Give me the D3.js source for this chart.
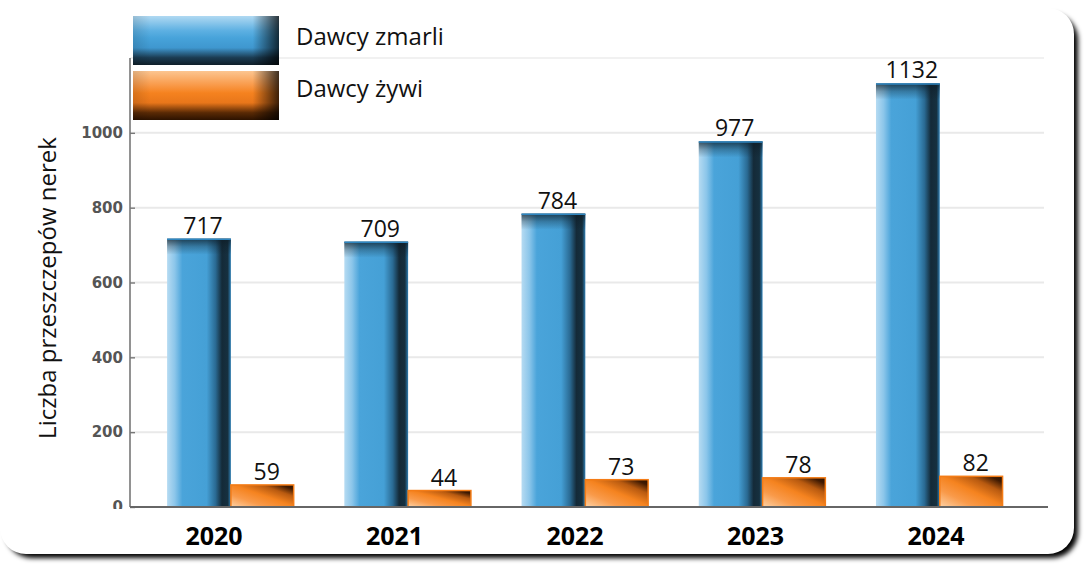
<!DOCTYPE html>
<html>
<head>
<meta charset="utf-8">
<script src="https://cdn.jsdelivr.net/npm/d3@7"></script>
<style>
    html, body { margin: 0; padding: 0; background: #fff; }
    svg { display: block; }
</style>
</head>
<body>
<div id="chart"></div>
<script>
// Data
const years = ['2020', '2021', '2022', '2023', '2024'];
const deceasedDonors = [717, 709, 784, 977, 1132];
const livingDonors = [59, 44, 73, 78, 82];
const seriesKeys = ['zmarli', 'zywi'];
const seriesNames = ['Dawcy zmarli', 'Dawcy żywi'];
const yTicks = [0, 200, 400, 600, 800, 1000];

const config = {
    width: 1084,
    height: 568,
    axisLeft: 130,
    axisRight: 1048,
    axisTop: 58,
    axisBottom: 507,
    font: "'Open Sans', 'Liberation Sans', sans-serif"
};

const rows = years.map((year, i) => ({
    year: year,
    zmarli: deceasedDonors[i],
    zywi: livingDonors[i]
}));

const svg = d3.select('#chart')
    .append('svg')
    .attr('width', config.width)
    .attr('height', config.height);

const defs = svg.append('defs');

// gradients for the glossy bars
function addGradient(id, stops, x1, y1, x2, y2) {
    const g = defs.append('linearGradient')
        .attr('id', id)
        .attr('x1', x1).attr('y1', y1)
        .attr('x2', x2).attr('y2', y2);
    stops.forEach(s => g.append('stop')
        .attr('offset', s[0])
        .attr('stop-color', s[1])
        .attr('stop-opacity', s[2] === undefined ? 1 : s[2]));
}

addGradient('blueBar', [
    [0, '#b6dbf2'], [0.12, '#8cc6ea'], [0.24, '#4aa4da'], [0.62, '#45a0d6'],
    [0.76, '#2a6a93'], [0.86, '#142a38'], [0.95, '#16303f'], [1, '#2f7fb4']
], 0, 0, 1, 0);
addGradient('blueTop', [
    [0, '#0d1c26', 0.75], [0.5, '#0d1c26', 0.3], [1, '#0d1c26', 0]
], 0, 0, 0, 1);
addGradient('orangeBar', [
    [0, '#fdd2a6'], [0.28, '#f99a4a'], [0.52, '#f5831f'], [0.74, '#b85a10'],
    [0.9, '#3f1a02'], [1, '#2c1200']
], 0, 1, 1, 0);
addGradient('blueLegend', [
    [0, '#b0d9f2'], [0.3, '#5db0e2'], [0.45, '#47a3da'], [0.65, '#3f97cf'],
    [0.85, '#1b3c52'], [1, '#0f1f2a']
], 0, 0, 0, 1);
addGradient('orangeLegend', [
    [0, '#fcc590'], [0.3, '#f99846'], [0.45, '#f5821f'], [0.65, '#e8761a'],
    [0.85, '#5a2a05'], [1, '#2c1200']
], 0, 0, 0, 1);
addGradient('legendShade', [
    [0, '#000', 0.12], [0.12, '#000', 0], [0.82, '#000', 0], [1, '#000', 0.75]
], 0, 0, 1, 0);

const shadow = defs.append('filter')
    .attr('id', 'frameShadow')
    .attr('x', '-5%').attr('y', '-5%')
    .attr('width', '110%').attr('height', '110%');
shadow.append('feGaussianBlur').attr('in', 'SourceAlpha').attr('stdDeviation', 2.5);

// the "0" tick label is cut by the axis line in the reference
defs.append('clipPath')
    .attr('id', 'yClip')
    .append('rect')
    .attr('x', -config.axisLeft).attr('y', 0)
    .attr('width', config.axisLeft + 10)
    .attr('height', config.axisBottom + 2);

// card frame with shadow on right and bottom
svg.append('rect')
    .attr('x', 6).attr('y', 14)
    .attr('width', 1072).attr('height', 544)
    .attr('rx', 26)
    .attr('fill', '#6a6a6a')
    .attr('filter', 'url(#frameShadow)');
svg.append('rect')
    .attr('x', 0).attr('y', 8)
    .attr('width', 1074).attr('height', 546)
    .attr('rx', 26)
    .attr('fill', '#fff');

// scales
const xScale = d3.scaleBand()
    .domain(years)
    .range([config.axisLeft, config.axisRight])
    .paddingInner(0.28)
    .paddingOuter(0.23)
    .align(0.455);

const xSub = d3.scaleBand()
    .domain(seriesKeys)
    .range([0, xScale.bandwidth()]);

const yScale = d3.scaleLinear()
    .domain([0, 1200])
    .range([config.axisBottom, config.axisTop]);

const labelScale = d3.scalePoint()
    .domain(years)
    .range([214, 936]);

// grid lines
svg.append('g')
    .selectAll('line')
    .data(yTicks.slice(1).concat([1200]))
    .join('line')
    .attr('x1', config.axisLeft)
    .attr('x2', config.axisRight - 4)
    .attr('y1', d => yScale(d))
    .attr('y2', d => yScale(d))
    .attr('stroke', d => d === 1200 ? '#f1f1f1' : '#e9e9e9')
    .attr('stroke-width', 2);

// y axis
const yAxisGroup = svg.append('g')
    .attr('transform', `translate(${config.axisLeft},0)`)
    .attr('clip-path', 'url(#yClip)')
    .call(d3.axisLeft(yScale)
        .tickValues(yTicks)
        .tickFormat(d3.format('d'))
        .tickSize(-5)
        .tickPadding(7));

yAxisGroup.select('.domain')
    .attr('d', `M0,${config.axisTop}V${config.axisBottom}`)
    .attr('stroke', '#777')
    .attr('stroke-width', 1.6);
yAxisGroup.selectAll('.tick line')
    .attr('stroke', '#777')
    .attr('stroke-width', 1.4);
yAxisGroup.selectAll('.tick text')
    .attr('fill', '#555')
    .attr('font-family', "'DejaVu Sans', sans-serif")
    .attr('font-weight', 'bold')
    .attr('font-size', 15);

svg.append('text')
    .attr('transform', `translate(56, 288) rotate(-90)`)
    .attr('text-anchor', 'middle')
    .style('font-family', config.font)
    .style('font-size', '24px')
    .attr('fill', '#111')
    .text('Liczba przeszczepów nerek');

// bars
const groups = svg.append('g')
    .selectAll('g')
    .data(rows)
    .join('g')
    .attr('transform', d => `translate(${xScale(d.year)},0)`);

groups.append('rect')
    .attr('x', xSub('zmarli'))
    .attr('y', d => yScale(d.zmarli))
    .attr('width', xSub.bandwidth())
    .attr('height', d => config.axisBottom - yScale(d.zmarli))
    .attr('fill', 'url(#blueBar)');

groups.append('rect')
    .attr('x', xSub('zmarli'))
    .attr('y', d => yScale(d.zmarli))
    .attr('width', xSub.bandwidth())
    .attr('height', 16)
    .attr('fill', 'url(#blueTop)');

groups.append('line')
    .attr('x1', xSub('zmarli'))
    .attr('x2', xSub('zmarli') + xSub.bandwidth())
    .attr('y1', d => yScale(d.zmarli) + 0.5)
    .attr('y2', d => yScale(d.zmarli) + 0.5)
    .attr('stroke', '#2f86c0')
    .attr('stroke-width', 1.5);

groups.append('rect')
    .attr('x', xSub('zywi'))
    .attr('y', d => yScale(d.zywi))
    .attr('width', xSub.bandwidth() - 1)
    .attr('height', d => config.axisBottom - yScale(d.zywi))
    .attr('fill', 'url(#orangeBar)')
    .attr('stroke', '#f47c16')
    .attr('stroke-width', 1.5);

// value labels
groups.selectAll('.value')
    .data(d => seriesKeys.map(k => ({ key: k, value: d[k] })))
    .join('text')
    .attr('class', 'value')
    .attr('x', d => xSub(d.key) + xSub.bandwidth() / 2 + 4)
    .attr('y', d => yScale(d.value) - 5)
    .attr('text-anchor', 'middle')
    .style('font-family', config.font)
    .style('font-size', '23px')
    .attr('fill', '#111')
    .text(d => d.value);

// x axis line
svg.append('line')
    .attr('x1', config.axisLeft)
    .attr('x2', config.axisRight)
    .attr('y1', config.axisBottom)
    .attr('y2', config.axisBottom)
    .attr('stroke', '#666')
    .attr('stroke-width', 2);

// year labels
svg.append('g')
    .selectAll('text')
    .data(years)
    .join('text')
    .attr('x', d => labelScale(d))
    .attr('y', 545)
    .attr('text-anchor', 'middle')
    .style('font-family', config.font)
    .style('font-weight', 'bold')
    .style('font-size', '25px')
    .attr('fill', '#000')
    .text(d => d);

// legend
const legend = svg.append('g')
    .selectAll('g')
    .data(seriesNames)
    .join('g')
    .attr('transform', (d, i) => `translate(133, ${16 + i * 55})`);

legend.append('rect')
    .attr('width', 146)
    .attr('height', 49)
    .attr('fill', (d, i) => i === 0 ? 'url(#blueLegend)' : 'url(#orangeLegend)');

legend.append('rect')
    .attr('width', 146)
    .attr('height', 49)
    .attr('fill', 'url(#legendShade)');

legend.append('text')
    .attr('x', 163)
    .attr('y', (d, i) => i === 0 ? 29 : 26)
    .style('font-family', config.font)
    .style('font-size', '24px')
    .attr('fill', '#111')
    .text(d => d);
</script>
</body>
</html>
